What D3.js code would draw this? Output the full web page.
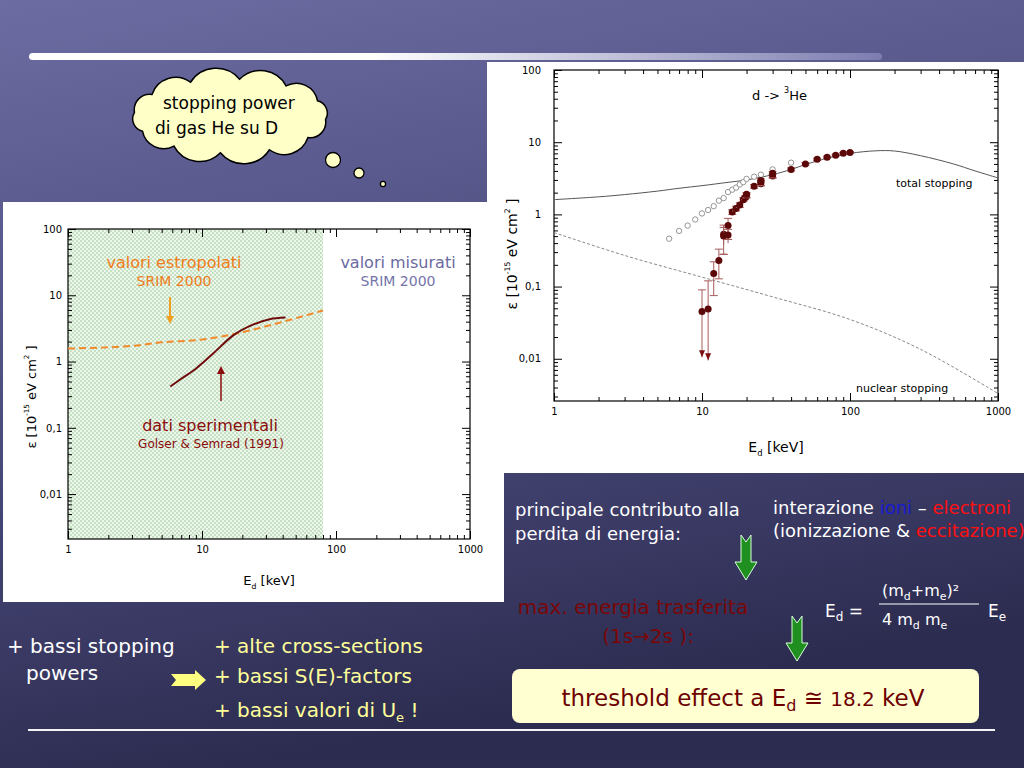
<!DOCTYPE html>
<html>
<head>
<meta charset="utf-8">
<script src="https://cdn.jsdelivr.net/npm/d3@7"></script>
<style>
body{margin:0;overflow:hidden;background:#3a3a66}
svg{display:block}
</style>
</head>
<body>
<svg id="slide" width="1024" height="768"></svg>
<script>
// ---- data ----
const xTickVals=[1,10,100,1000]
const xTickText=["1","10","100","1000"]
const yTickVals=[0.01,0.1,1,10,100]
const yTickText=["0,01","0,1","1","10","100"]

// right plot: SRIM total stopping, nuclear stopping
const totE=[1,2,3,5,7,10,15,20,30,40,50,70,100,150,200,300,500,700,1000]
const totS=[1.6,1.75,1.88,2.1,2.3,2.5,2.78,3.0,3.55,4.2,4.9,6.0,7.0,7.6,7.55,6.5,5.0,4.0,3.2]
const nucE=[1,3,10,30,100,300,1000]
const nucS=[0.56,0.27,0.135,0.072,0.035,0.0135,0.0033]
// open circles
const openE=[6,7,8,9,10,11,12,13,14,15,16,17,18,19,20,22.5,25,30,40]
const openS=[0.46,0.59,0.7,0.85,1.03,1.15,1.3,1.55,1.68,2.04,2.2,2.35,2.6,2.8,3.1,3.33,3.55,4.2,5.2]
// filled points with error bars
const dataE=[10,11,12,13,14,14,15,15,16,17,18,19,19.5,20,20,22.5,25,25,25,30,30,40,50,60,70,80,90,100]
const dataS=[0.045,0.049,0.152,0.23,0.53,0.5,0.7,0.52,1.08,1.21,1.35,1.6,1.7,1.8,1.9,2.45,2.65,2.8,2.95,3.4,3.7,4.2,5.0,5.8,6.2,6.6,7.0,7.2]
const errHi=[0.09,0.12,0.22,0.33,0.71,0.66,0.88,0.62,1.16,1.3,1.45,1.7,1.8,1.92,2.0,2.6,2.8,2.95,3.1,3.6,3.9,4.4,5.2,6.0,6.4,6.8,7.2,7.4]
const errLo=[0.0105,0.0095,0.075,0.128,0.28,0.38,0.45,0.4,1.0,1.12,1.25,1.5,1.6,1.7,1.8,2.3,2.5,2.65,2.8,3.2,3.5,4.0,4.8,5.6,6.0,6.4,6.8,7.0]
const upperLim=[true,true]

// left plot: SRIM extrapolated (dashed) and Golser & Semrad data curve
const srimE=[1,2,3,5,10,20,30,50,80]
const srimS=[1.57,1.64,1.72,1.95,2.15,2.76,3.4,4.5,5.9]
const expE=[5.8,7,9,12,17,24,32,42]
const expS=[0.42,0.55,0.78,1.3,2.46,3.6,4.35,4.6]
const extrapLimit=80

const FONT="'Comic Sans MS','DejaVu Sans',sans-serif"
const svg=d3.select("#slide")
const defs=svg.append("defs")

// background
const bg=defs.append("linearGradient").attr("id","bg")
    .attr("x1",0).attr("y1",0).attr("x2",0.25).attr("y2",1)
bg.append("stop").attr("offset",0).attr("stop-color","#6c6ca2")
bg.append("stop").attr("offset",0.55).attr("stop-color","#4a4a7c")
bg.append("stop").attr("offset",1).attr("stop-color","#2c2c50")
svg.append("rect").attr("width",1024).attr("height",768).attr("fill","url(#bg)")

// title bar
const bar=defs.append("linearGradient").attr("id","bar")
bar.append("stop").attr("offset",0).attr("stop-color","#ffffff")
bar.append("stop").attr("offset",0.4).attr("stop-color","#ffffff")
bar.append("stop").attr("offset",1).attr("stop-color","#7c7cb0")
svg.append("rect").attr("x",29).attr("y",53).attr("width",853).attr("height",7)
    .attr("rx",3.5).attr("fill","url(#bar)")

// dotted green pattern
const pat=defs.append("pattern").attr("id","dots").attr("patternUnits","userSpaceOnUse")
    .attr("width",4).attr("height",4)
pat.append("rect").attr("width",4).attr("height",4).attr("fill","#eef7ec")
pat.append("circle").attr("cx",1).attr("cy",1).attr("r",0.7).attr("fill","#7fb87f")
pat.append("circle").attr("cx",3).attr("cy",3).attr("r",0.7).attr("fill","#7fb87f")

// white picture boxes
svg.append("rect").attr("x",3).attr("y",202).attr("width",501).attr("height",400).attr("fill","#fff")
svg.append("rect").attr("x",487).attr("y",62).attr("width",537).attr("height",411).attr("fill","#fff")

let minors=(lo,hi)=>{
    let out=[]
    for(let d=1e-3;d<=1000;d*=10){
        for(let k=2;k<=9;k++){
            const v=+(d*k).toPrecision(3)
            if(v>lo&&v<hi) out.push(v)
        }
    }
    return out
}

let logPlot=(cfg)=>{
    const g=svg.append("g")
    const x=d3.scaleLog().domain([1,1000]).range([cfg.left,cfg.right])
    const y=d3.scaleLog().domain(cfg.yDom).range([cfg.bottom,cfg.top])
    const xMin=minors(1,1000)
    const yMin=minors(cfg.yDom[0],cfg.yDom[1])
    const style=(sel,fs)=>{
        sel.select(".domain").remove()
        sel.attr("font-family",FONT).attr("font-size",fs)
        sel.selectAll("line").attr("stroke","#000")
    }
    // bottom
    g.append("g").attr("transform",`translate(0,${cfg.bottom})`)
        .call(d3.axisBottom(x).tickValues(xTickVals).tickSize(-8).tickPadding(7)
            .tickFormat((d,i)=>xTickText[i])).call(s=>style(s,cfg.fs))
    g.append("g").attr("transform",`translate(0,${cfg.bottom})`)
        .call(d3.axisBottom(x).tickValues(xMin).tickSize(-4).tickFormat("")).call(s=>style(s,cfg.fs))
    // top
    g.append("g").attr("transform",`translate(0,${cfg.top})`)
        .call(d3.axisTop(x).tickValues(xTickVals).tickSize(-8).tickFormat("")).call(s=>style(s,cfg.fs))
    g.append("g").attr("transform",`translate(0,${cfg.top})`)
        .call(d3.axisTop(x).tickValues(xMin).tickSize(-4).tickFormat("")).call(s=>style(s,cfg.fs))
    // left
    g.append("g").attr("transform",`translate(${cfg.left},0)`)
        .call(d3.axisLeft(y).tickValues(yTickVals).tickSize(-8).tickPadding(cfg.ypad)
            .tickFormat((d,i)=>yTickText[i])).call(s=>style(s,cfg.fs))
    g.append("g").attr("transform",`translate(${cfg.left},0)`)
        .call(d3.axisLeft(y).tickValues(yMin).tickSize(-4).tickFormat("")).call(s=>style(s,cfg.fs))
    // right
    g.append("g").attr("transform",`translate(${cfg.right},0)`)
        .call(d3.axisRight(y).tickValues(yTickVals).tickSize(-8).tickFormat("")).call(s=>style(s,cfg.fs))
    g.append("g").attr("transform",`translate(${cfg.right},0)`)
        .call(d3.axisRight(y).tickValues(yMin).tickSize(-4).tickFormat("")).call(s=>style(s,cfg.fs))
    g.append("rect").attr("x",cfg.left).attr("y",cfg.top)
        .attr("width",cfg.right-cfg.left).attr("height",cfg.bottom-cfg.top)
        .attr("fill","none").attr("stroke","#000").attr("stroke-width",1.2)
    // axis titles
    const xt=g.append("text").attr("x",(cfg.left+cfg.right)/2).attr("y",cfg.xTitleY)
        .attr("text-anchor","middle").attr("font-family",FONT).attr("font-size",cfg.tfs)
    xt.append("tspan").text("E")
    xt.append("tspan").attr("dy",4).attr("font-size",cfg.tfs*0.6).text("d")
    xt.append("tspan").attr("dy",-4).text("  [keV]")
    const yt=g.append("text").attr("transform",`translate(${cfg.yTitleX},${cfg.yTitleY}) rotate(-90)`)
        .attr("text-anchor","middle").attr("font-family",FONT).attr("font-size",cfg.tfs)
    yt.append("tspan").text("ε  [10")
    yt.append("tspan").attr("dy",-7).attr("font-size",cfg.tfs*0.55).text("-15")
    yt.append("tspan").attr("dy",7).text(" eV cm")
    yt.append("tspan").attr("dy",-7).attr("font-size",cfg.tfs*0.55).text("2")
    yt.append("tspan").attr("dy",7).text(" ]")
    return {g,x,y}
}

// ---------- left plot ----------
const L=logPlot({left:68,right:470,top:229,bottom:539,yDom:[0.0021,100],fs:10,ypad:6,
    tfs:13,xTitleY:585,yTitleX:36,yTitleY:397})
L.g.insert("rect",":first-child").attr("x",L.x(1)).attr("y",229)
    .attr("width",L.x(extrapLimit)-L.x(1)).attr("height",539-229).attr("fill","url(#dots)")
const lineL=d3.line().x(d=>L.x(d[0])).y(d=>L.y(d[1])).curve(d3.curveMonotoneX)
L.g.append("path").datum(srimE.map((e,i)=>[e,srimS[i]])).attr("d",lineL)
    .attr("fill","none").attr("stroke","#f08a2a").attr("stroke-width",2).attr("stroke-dasharray","7,4")
L.g.append("path").datum(expE.map((e,i)=>[e,expS[i]])).attr("d",lineL)
    .attr("fill","none").attr("stroke","#6e0c0c").attr("stroke-width",2)

let addText=(g,x,y,txt,size,color,anchor)=>g.append("text").attr("x",x).attr("y",y)
    .attr("font-family",FONT).attr("font-size",size).attr("fill",color)
    .attr("text-anchor",anchor||"start").text(txt)

addText(L.g,174,268,"valori estropolati",16,"#f07d1a","middle")
addText(L.g,174,286,"SRIM 2000",14,"#f07d1a","middle")
addText(L.g,398,268,"valori misurati",16,"#6a6aa0","middle")
addText(L.g,398,286,"SRIM 2000",14,"#7474a8","middle")
addText(L.g,210,431,"dati sperimentali",16,"#8a0c0c","middle")
addText(L.g,211,448,"Golser & Semrad (1991)",12,"#8a0c0c","middle")
// annotation arrows
L.g.append("line").attr("x1",170).attr("x2",170).attr("y1",297).attr("y2",318)
    .attr("stroke","#f0a020").attr("stroke-width",2)
L.g.append("path").attr("d","M166,316 L174,316 L170,324 Z").attr("fill","#f0a020")
L.g.append("line").attr("x1",221).attr("x2",221).attr("y1",401).attr("y2",372)
    .attr("stroke","#8a0c0c").attr("stroke-width",1.5)
L.g.append("path").attr("d","M217,374 L225,374 L221,366 Z").attr("fill","#8a0c0c")

// ---------- right plot ----------
const R=logPlot({left:554,right:998,top:70,bottom:401,yDom:[0.0026,100],fs:10,ypad:13,
    tfs:14,xTitleY:452,yTitleX:517,yTitleY:254})
const lineR=d3.line().x(d=>R.x(d[0])).y(d=>R.y(d[1])).curve(d3.curveCatmullRom)
R.g.append("path").datum(totE.map((e,i)=>[e,totS[i]])).attr("d",lineR)
    .attr("fill","none").attr("stroke","#555").attr("stroke-width",1)
R.g.append("path").datum(nucE.map((e,i)=>[e,nucS[i]])).attr("d",lineR)
    .attr("fill","none").attr("stroke","#888").attr("stroke-width",1).attr("stroke-dasharray","3,2")
R.g.selectAll(".open").data(openE).enter().append("circle").attr("class","open")
    .attr("cx",d=>R.x(d)).attr("cy",(d,i)=>R.y(openS[i])).attr("r",2.7)
    .attr("fill","#fff").attr("stroke","#8a8a8a").attr("stroke-width",0.9)
const eb=R.g.selectAll(".eb").data(dataE).enter().append("g").attr("class","eb")
eb.append("line").attr("x1",d=>R.x(d)).attr("x2",d=>R.x(d))
    .attr("y1",(d,i)=>R.y(errHi[i])).attr("y2",(d,i)=>R.y(errLo[i]))
    .attr("stroke","#a85a5a").attr("stroke-width",1)
eb.append("line").attr("x1",d=>R.x(d)-4).attr("x2",d=>R.x(d)+4)
    .attr("y1",(d,i)=>R.y(errHi[i])).attr("y2",(d,i)=>R.y(errHi[i]))
    .attr("stroke","#a85a5a").attr("stroke-width",1)
eb.filter((d,i)=>!upperLim[i]).append("line").attr("x1",d=>R.x(d)-4).attr("x2",d=>R.x(d)+4)
    .attr("y1",d=>R.y(errLo[dataE.indexOf(d)])).attr("y2",d=>R.y(errLo[dataE.indexOf(d)]))
    .attr("stroke","#a85a5a").attr("stroke-width",1)
eb.filter((d,i)=>upperLim[i]).append("path")
    .attr("d",d=>{const i=dataE.indexOf(d),cx=R.x(d),cy=R.y(errLo[i]);return `M${cx-3},${cy-7}L${cx+3},${cy-7}L${cx},${cy}Z`})
    .attr("fill","#7a1010")
eb.append("circle").attr("cx",d=>R.x(d)).attr("cy",(d,i)=>R.y(dataS[i])).attr("r",3.5)
    .attr("fill","#5c0808")

const tt=R.g.append("text").attr("x",752).attr("y",100).attr("font-family",FONT).attr("font-size",13)
tt.append("tspan").text("d -> ")
tt.append("tspan").attr("dy",-7).attr("font-size",8).text("3")
tt.append("tspan").attr("dy",7).text("He")
addText(R.g,896,187,"total stopping",11,"#000")
addText(R.g,856,392,"nuclear stopping",11,"#000")

// ---------- thought cloud ----------
const cloudN=12, ccx=230, ccy=116, crx=96, cry=37
const cpts=d3.range(cloudN).map(i=>{const a=i/cloudN*2*Math.PI+0.1;return [ccx+crx*Math.cos(a),ccy+cry*Math.sin(a)]})
let cd=`M${cpts[0][0]},${cpts[0][1]}`
cpts.forEach((p,i)=>{
    const q=cpts[(i+1)%cloudN]
    const r=Math.hypot(q[0]-p[0],q[1]-p[1])*0.62
    cd+=`A${r},${r} 0 0 1 ${q[0]},${q[1]}`
})
svg.append("path").attr("d",cd+"Z").attr("fill","#ffffc8").attr("stroke","#000").attr("stroke-width",1.5)
;[[333,160,7.5],[359,173,5],[383,184,2.6]].forEach(c=>{
    svg.append("circle").attr("cx",c[0]).attr("cy",c[1]).attr("r",c[2])
        .attr("fill","#ffffc8").attr("stroke","#000").attr("stroke-width",1.3)
})
addText(svg,163,109,"stopping power",17,"#000")
addText(svg,155,134,"di gas He su D",17,"#000")

// ---------- lower right text ----------
addText(svg,515,516,"principale contributo alla",18,"#fff")
addText(svg,515,540,"perdita di energia:",18,"#fff")
const t1=svg.append("text").attr("x",773).attr("y",514).attr("font-family",FONT).attr("font-size",18).attr("fill","#fff")
t1.append("tspan").text("interazione ")
t1.append("tspan").attr("fill","#1a1ad0").text("ioni")
t1.append("tspan").text(" – ")
t1.append("tspan").attr("fill","#ff1010").text("electroni")
const t2=svg.append("text").attr("x",773).attr("y",537).attr("font-family",FONT).attr("font-size",18).attr("fill","#fff")
t2.append("tspan").text("(ionizzazione & ")
t2.append("tspan").attr("fill","#ff1010").text("eccitazione)")

let greenArrow=(cx,top)=>svg.append("path")
    .attr("d",`M${cx-5},${top} L${cx},${top+7} L${cx+5},${top} L${cx+5},${top+27} L${cx+11},${top+27} L${cx},${top+45} L${cx-11},${top+27} L${cx-5},${top+27} Z`)
    .attr("fill","#1f8f1f").attr("stroke","#d8ffd8").attr("stroke-width",1)
greenArrow(746,535)
greenArrow(797,616)

addText(svg,633,614,"max. energia trasferita",20,"#7a0606","middle")
addText(svg,648,643,"(1s→2s ):",20,"#7a0606","middle")

const f1=svg.append("text").attr("x",825).attr("y",617).attr("font-family",FONT).attr("font-size",17).attr("fill","#fff")
f1.append("tspan").text("E")
f1.append("tspan").attr("dy",4).attr("font-size",12).text("d")
f1.append("tspan").attr("dy",-4).text(" =")
const f2=svg.append("text").attr("x",882).attr("y",596).attr("font-family",FONT).attr("font-size",16).attr("fill","#fff")
f2.append("tspan").text("(m")
f2.append("tspan").attr("dy",4).attr("font-size",11).text("d")
f2.append("tspan").attr("dy",-4).text("+m")
f2.append("tspan").attr("dy",4).attr("font-size",11).text("e")
f2.append("tspan").attr("dy",-4).text(")²")
svg.append("line").attr("x1",879).attr("x2",979).attr("y1",604).attr("y2",604).attr("stroke","#fff").attr("stroke-width",1.2)
const f3=svg.append("text").attr("x",882).attr("y",625).attr("font-family",FONT).attr("font-size",16).attr("fill","#fff")
f3.append("tspan").text("4 m")
f3.append("tspan").attr("dy",4).attr("font-size",11).text("d")
f3.append("tspan").attr("dy",-4).text(" m")
f3.append("tspan").attr("dy",4).attr("font-size",11).text("e")
const f4=svg.append("text").attr("x",988).attr("y",617).attr("font-family",FONT).attr("font-size",17).attr("fill","#fff")
f4.append("tspan").text("E")
f4.append("tspan").attr("dy",4).attr("font-size",12).text("e")

svg.append("rect").attr("x",512).attr("y",669).attr("width",467).attr("height",54).attr("rx",8)
    .attr("fill","#ffffd2")
const th=svg.append("text").attr("x",743).attr("y",706).attr("text-anchor","middle")
    .attr("font-family",FONT).attr("font-size",23).attr("fill","#6e0000")
th.append("tspan").text("threshold effect a E")
th.append("tspan").attr("dy",5).attr("font-size",16).text("d")
th.append("tspan").attr("dy",-5).text(" ≅ ")
th.append("tspan").attr("font-size",20).text("18.2")
th.append("tspan").text(" keV")

// ---------- lower left text ----------
addText(svg,7,653,"+ bassi stopping",20,"#fff")
addText(svg,26,680,"powers",20,"#fff")
svg.append("path").attr("d","M171,674 L195,674 L195,670 L206,680 L195,690 L195,686 L171,686 L176,680 Z")
    .attr("fill","#ffff80")
addText(svg,214,653,"+ alte cross-sections",20,"#ffff9a")
addText(svg,214,683,"+ bassi S(E)-factors",20,"#ffff9a")
const uL=svg.append("text").attr("x",214).attr("y",717).attr("font-family",FONT).attr("font-size",20).attr("fill","#ffff9a")
uL.append("tspan").text("+ bassi valori di U")
uL.append("tspan").attr("dy",5).attr("font-size",13).text("e")
uL.append("tspan").attr("dy",-5).text(" !")

svg.append("line").attr("x1",28).attr("x2",995).attr("y1",730).attr("y2",730)
    .attr("stroke","#f4f4f4").attr("stroke-width",2)
</script>
</body>
</html>
